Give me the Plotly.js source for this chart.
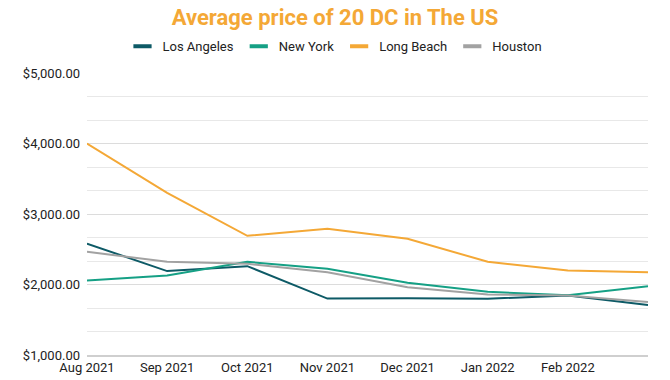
<!DOCTYPE html>
<html>
<head>
<meta charset="utf-8">
<script src="https://cdn.plot.ly/plotly-3.0.1.min.js"></script>
<style>html,body{margin:0;padding:0;background:#fff;}#chart{width:670px;height:380px;}</style>
</head>
<body>
<div id="chart"></div>
<script>
const months = ["Aug 2021","Sep 2021","Oct 2021","Nov 2021","Dec 2021","Jan 2022","Feb 2022","Mar 2022"];
const tickLabels = ["Aug 2021","Sep 2021","Oct 2021","Nov 2021","Dec 2021","Jan 2022","Feb 2022",""];
const losAngeles = [2580, 2190, 2260, 1800, 1805, 1797, 1845, 1710];
const newYork    = [2057, 2128, 2322, 2222, 2024, 1896, 1848, 1976];
const longBeach  = [4000, 3300, 2690, 2790, 2650, 2322, 2199, 2175];
const houston    = [2464, 2322, 2293, 2175, 1962, 1858, 1845, 1750];
const seriesNames = ["Los Angeles","New York","Long Beach","Houston"];
const seriesColors = ["#0d5a66","#15a085","#f4a836","#a2a2a2"];
const seriesData = [losAngeles, newYork, longBeach, houston];

const lineTraces = seriesData.map((ys, i) => ({
  x: months, y: ys, type: "scatter", mode: "lines", name: seriesNames[i],
  line: {color: seriesColors[i], width: 2}, showlegend: false
}));
const legendTraces = seriesNames.map((n, i) => ({
  x: [null], y: [null], type: "scatter", mode: "markers", name: n,
  marker: {symbol: "line-ew", size: 13, color: seriesColors[i], line: {width: 4, color: seriesColors[i]}}
}));

const layout = {
  width: 670, height: 380,
  margin: {l: 87, r: 22, t: 73, b: 25},
  paper_bgcolor: "#fff", plot_bgcolor: "#fff",
  font: {family: "Roboto, sans-serif", size: 13, color: "#222"},
  title: {text: "<b>Average price of 20 DC in The US</b>", font: {size: 22, color: "#f4a836", family: "Roboto, sans-serif"},
          x: 0.5, xref: "container", xanchor: "center", y: 0.955, yref: "container", yanchor: "middle"},
  showlegend: true,
  legend: {orientation: "h", x: 0.5, xref: "container", xanchor: "center", y: 0.878, yref: "container", yanchor: "middle",
           font: {size: 13, color: "#222"}, itemwidth: 30, traceorder: "normal"},
  xaxis: {type: "category", range: [0, 7], tickvals: months, ticktext: tickLabels,
          showgrid: false, showline: true, linecolor: "#cfcfcf", linewidth: 1.5, ticks: "", zeroline: false,
          tickfont: {size: 13, color: "#222"}, fixedrange: true},
  yaxis: {range: [1000, 5000], tick0: 1000, dtick: 1000, tickprefix: "$", tickformat: ",.2f",
          showgrid: true, gridcolor: "#dcdcdc", gridwidth: 1, zeroline: false, ticks: "",
          ticklabelstandoff: 6,
          minor: {tick0: 1000, dtick: 1000/3, showgrid: true, gridcolor: "#e8e8e8", gridwidth: 1},
          tickfont: {size: 13, color: "#222"}, fixedrange: true}
};

Plotly.newPlot("chart", lineTraces.concat(legendTraces), layout, {displayModeBar: false, staticPlot: true});
</script>
</body>
</html>
